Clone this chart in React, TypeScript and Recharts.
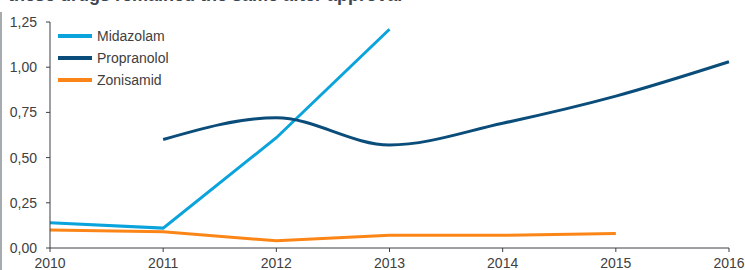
import { LineChart, Line, XAxis, YAxis } from "recharts";

const years = [2010, 2011, 2012, 2013, 2014, 2015, 2016];
const midazolam = [0.14, 0.11, 0.61, 1.21, null, null, null];
const propranolol = [null, 0.6, 0.72, 0.57, 0.69, 0.84, 1.03];
const zonisamid = [0.1, 0.09, 0.04, 0.07, 0.07, 0.08, null];
const yTicks = [0, 0.25, 0.5, 0.75, 1, 1.25];

const series = [
  { key: "midazolam", name: "Midazolam", color: "#0aa3dc", curve: "linear" },
  { key: "propranolol", name: "Propranolol", color: "#0b4d7a", curve: "monotone" },
  { key: "zonisamid", name: "Zonisamid", color: "#fb8617", curve: "linear" },
] as const;

const data = years.map((year, i) => ({
  year,
  midazolam: midazolam[i],
  propranolol: propranolol[i],
  zonisamid: zonisamid[i],
}));

const textColor = "#404040";
const axisColor = "#3a3f44";
const font = "'Liberation Sans', Arial, sans-serif";

// legend sits inside the plot, top-left, like the original slide
function KeyList() {
  return (
    <div
      style={{
        position: "absolute",
        left: 58,
        top: 25,
        fontFamily: font,
        fontSize: 14,
        color: textColor,
      }}
    >
      {series.map((s) => (
        <div
          key={s.key}
          style={{ display: "flex", alignItems: "center", height: 22 }}
        >
          <span
            style={{
              width: 34,
              height: 4,
              background: s.color,
              marginRight: 5,
              display: "inline-block",
            }}
          />
          {s.name}
        </div>
      ))}
    </div>
  );
}

export default function App() {
  return (
    <div
      style={{
        position: "absolute",
        left: 0,
        top: 0,
        width: 745,
        height: 270,
        overflow: "hidden",
        background: "#fff",
        fontFamily: font,
      }}
    >
      <div
        style={{
          position: "absolute",
          left: 0,
          top: 12,
          width: 2,
          height: 258,
          background: "#a6abb0",
        }}
      />
      <div
        style={{
          position: "absolute",
          left: 8,
          top: -15,
          fontSize: 18,
          fontWeight: "bold",
          color: "#3b4652",
          whiteSpace: "nowrap",
        }}
      >
        these drugs remained the same after approval
      </div>
      <LineChart
        width={745}
        height={270}
        data={data}
        margin={{ top: 22, right: 16, bottom: 0, left: 0 }}
      >
        <XAxis
          dataKey="year"
          type="number"
          domain={[2010, 2016]}
          ticks={years}
          height={22}
          tick={{ fontSize: 14, fill: textColor }}
          tickSize={4}
          tickMargin={6}
          stroke={axisColor}
          interval={0}
        />
        <YAxis
          width={50}
          domain={[0, 1.25]}
          ticks={yTicks}
          tickFormatter={(v: number) => v.toFixed(2).replace(".", ",")}
          tick={{ fontSize: 14, fill: textColor }}
          tickSize={4}
          tickMargin={9}
          stroke={axisColor}
          interval={0}
        />
        {series.map((s) => (
          <Line
            key={s.key}
            type={s.curve}
            dataKey={s.key}
            name={s.name}
            stroke={s.color}
            strokeWidth={3}
            dot={false}
            activeDot={false}
            isAnimationActive={false}
          />
        ))}
      </LineChart>
      <KeyList />
    </div>
  );
}
